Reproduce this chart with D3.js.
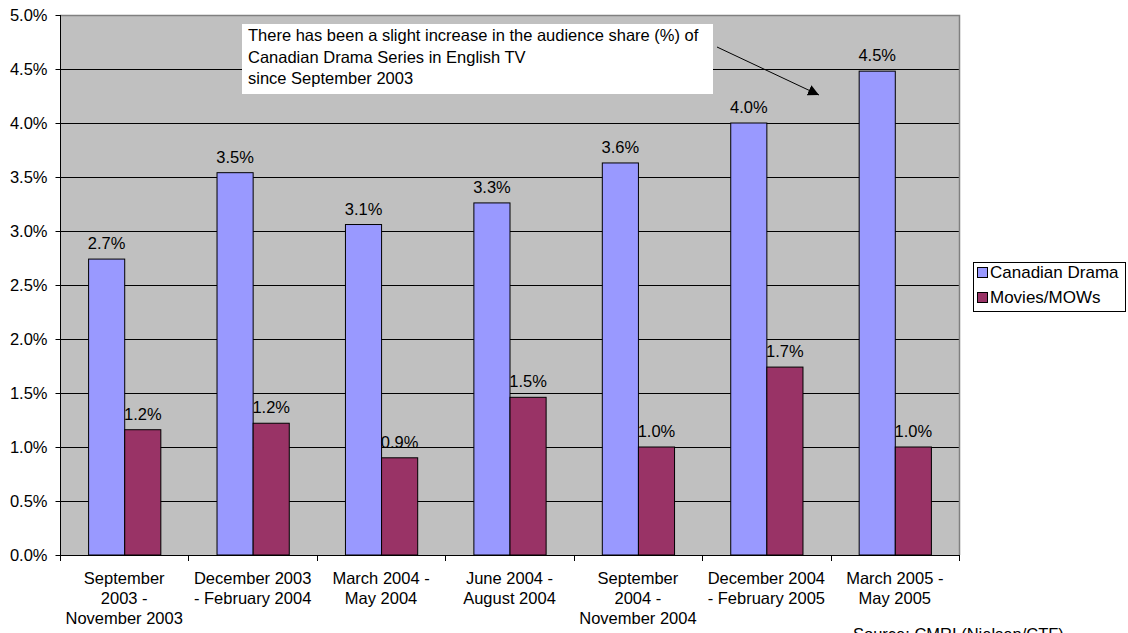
<!DOCTYPE html>
<html><head><meta charset="utf-8">
<script src="https://cdn.jsdelivr.net/npm/d3@7"></script>
<style>body{margin:0;background:#fff;} svg{display:block;font-family:"Liberation Sans",Arial,sans-serif;}</style>
</head><body>
<script>
const categories = [
  ["September","2003 -","November 2003"],
  ["December 2003","- February 2004"],
  ["March 2004 -","May 2004"],
  ["June 2004 -","August 2004"],
  ["September","2004 -","November 2004"],
  ["December 2004","- February 2005"],
  ["March 2005 -","May 2005"]
];
const canadianDrama = [2.74, 3.54, 3.06, 3.26, 3.63, 4.0, 4.48];
const moviesMOWs = [1.16, 1.22, 0.90, 1.46, 1.00, 1.74, 1.00];
const seriesNames = ["Canadian Drama", "Movies/MOWs"];
const seriesColors = ["#9999FF", "#993366"];
const yTicks = [0,0.5,1,1.5,2,2.5,3,3.5,4,4.5,5];
const noteLines = ["There has been a slight increase in the audience share (%) of","Canadian Drama Series in English TV","since September 2003"];
const sourceText = "Source: CMRI (Nielsen/CTF)";

const W=1128,H=633,FS=16.5;
const m={l:60,r:959,t:15,b:555};
const svg=d3.select("body").append("svg").attr("width",W).attr("height",H);

const x0=d3.scaleBand().domain(d3.range(categories.length)).range([m.l,m.r]).paddingInner(0.4375).paddingOuter(0.21875);
const x1=d3.scaleBand().domain([0,1]).range([0,x0.bandwidth()]);
const y=d3.scaleLinear().domain([0,5]).range([m.b,m.t]);

svg.append("rect").attr("x",m.l).attr("y",m.t).attr("width",m.r-m.l).attr("height",m.b-m.t).attr("fill","#C0C0C0");
svg.append("g").selectAll("line").data(yTicks.slice(1,-1)).join("line")
  .attr("x1",m.l).attr("x2",m.r).attr("y1",d=>Math.round(y(d))+0.5).attr("y2",d=>Math.round(y(d))+0.5)
  .attr("stroke","#000").attr("stroke-width",1);
svg.append("path").attr("d",`M${m.l},${m.t+0.5}H${m.r+0.5}V${m.b}`).attr("fill","none").attr("stroke","#808080").attr("stroke-width",1.5);

const data=categories.map((c,i)=>[canadianDrama[i],moviesMOWs[i]]);
const g=svg.append("g").selectAll("g").data(data).join("g").attr("transform",(d,i)=>`translate(${x0(i)},0)`);
g.selectAll("rect").data(d=>d).join("rect")
  .attr("x",(d,j)=>x1(j)+0.5).attr("width",x1.bandwidth())
  .attr("y",d=>y(d)).attr("height",d=>m.b-y(d))
  .attr("fill",(d,j)=>seriesColors[j]).attr("stroke","#000").attr("stroke-width",1);
g.selectAll("text").data(d=>d).join("text")
  .attr("x",(d,j)=>x1(j)+x1.bandwidth()/2+0.5).attr("y",d=>y(d)-10)
  .attr("text-anchor","middle").attr("font-size",FS).text(d=>d.toFixed(1)+"%");

const ya=svg.append("g").attr("transform",`translate(${m.l+0.5},0)`)
  .call(d3.axisLeft(y).tickValues(yTicks).tickSize(5).tickFormat(d=>d.toFixed(1)+"%"));
ya.select(".domain").attr("d",`M0,${m.t}V${m.b}`).attr("stroke","#000");
ya.selectAll(".tick line").attr("stroke","#000");
ya.selectAll("text").attr("font-size",FS).attr("font-family","Liberation Sans, Arial, sans-serif").attr("fill","#000").attr("x",-13);

const xa=svg.append("g");
xa.append("line").attr("x1",m.l).attr("x2",m.r+0.5).attr("y1",m.b+0.5).attr("y2",m.b+0.5).attr("stroke","#000");
const bounds=d3.range(categories.length+1).map(i=>m.l+i*x0.step());
xa.selectAll(".tk").data(bounds).join("line").attr("x1",d=>Math.round(d)+0.5).attr("x2",d=>Math.round(d)+0.5)
  .attr("y1",m.b).attr("y2",m.b+6).attr("stroke","#000");
xa.selectAll(".lab").data(categories).join("text")
  .attr("x",(d,i)=>x0(i)+x0.bandwidth()/2).attr("y",584).attr("text-anchor","middle").attr("font-size",FS)
  .each(function(d){d3.select(this).selectAll("tspan").data(d).join("tspan").attr("x",d3.select(this).attr("x")).attr("dy",(t,k)=>k?20:0).text(t=>t);});

const lg=svg.append("g");
lg.append("rect").attr("x",973.5).attr("y",262.5).attr("width",152).attr("height",49).attr("fill","#fff").attr("stroke","#000");
seriesNames.forEach((s,i)=>{
  lg.append("rect").attr("x",977.5).attr("y",267.5+i*25).attr("width",10).attr("height",10).attr("fill",seriesColors[i]).attr("stroke","#000");
  lg.append("text").attr("x",990).attr("y",278+i*25).attr("font-size",17).text(s);
});

svg.append("rect").attr("x",242).attr("y",24).attr("width",471).attr("height",70).attr("fill","#fff");
svg.append("text").attr("x",248).attr("y",41).attr("font-size",FS)
  .selectAll("tspan").data(noteLines).join("tspan").attr("x",248).attr("dy",(d,i)=>i?21.5:0).text(d=>d);
svg.append("defs").append("marker").attr("id","ah").attr("viewBox","0 0 10 10").attr("refX",10).attr("refY",5)
  .attr("markerWidth",11).attr("markerHeight",11).attr("markerUnits","userSpaceOnUse").attr("orient","auto")
  .append("path").attr("d","M0,0L10,5L0,10z").attr("fill","#000");
svg.append("line").attr("x1",717).attr("y1",47).attr("x2",819).attr("y2",95).attr("stroke","#000").attr("stroke-width",1).attr("marker-end","url(#ah)");

svg.append("text").attr("x",853).attr("y",640).attr("font-size",FS).text(sourceText);
</script>
</body></html>
